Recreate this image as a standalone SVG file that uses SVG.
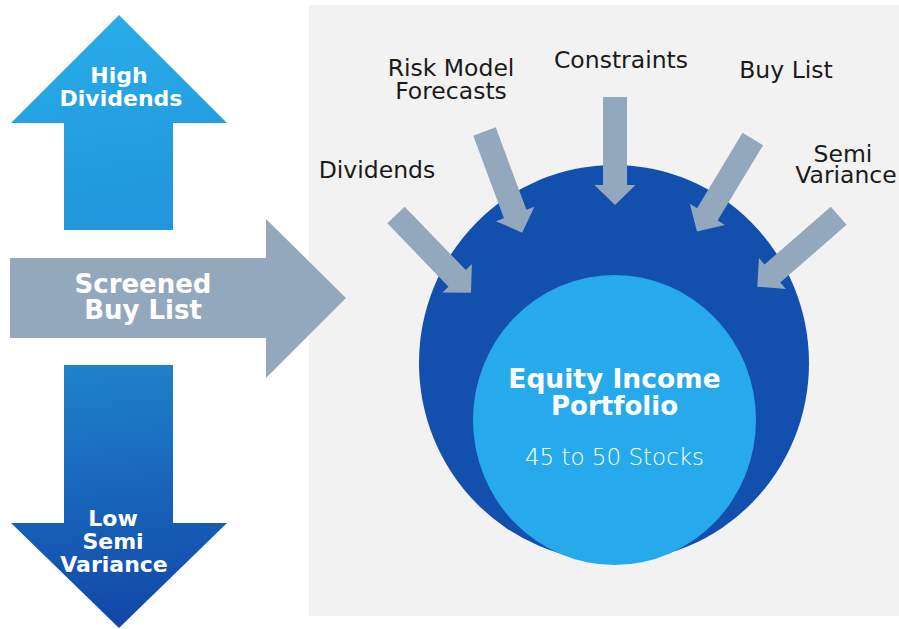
<svg xmlns="http://www.w3.org/2000/svg" width="899" height="629" viewBox="0 0 899 629">
  <defs>
    <linearGradient id="gUp" x1="0" y1="0" x2="0.15" y2="1">
      <stop offset="0" stop-color="#29ade9"/>
      <stop offset="1" stop-color="#2196dc"/>
    </linearGradient>
    <linearGradient id="gDown" x1="0" y1="0" x2="0.1" y2="1">
      <stop offset="0" stop-color="#1f84cd"/>
      <stop offset="1" stop-color="#1249a8"/>
    </linearGradient>
    <path id="inArrow" d="M0,-12 H88 V-20.5 L108,0 L88,20.5 V12 H0 Z"/>
  </defs>
  <style>
    .wb { fill: #ffffff; font-family: "DejaVu Sans", "Open Sans", sans-serif; font-weight: 700; text-anchor: middle; }
    .lbl { fill: #1a1a1a; font-family: "DejaVu Sans", "Open Sans", sans-serif; font-weight: 400; font-size: 23.5px; text-anchor: middle; }
    .gray { fill: #94a8bd; }
  </style>

  <rect id="panel" x="309" y="5" width="590" height="611" fill="#f2f2f2"/>

  <g id="high-dividends">
    <path d="M119,15 L227,123 H173 V230 H64 V123 H11 Z" fill="url(#gUp)"/>
    <text class="wb" font-size="22" x="119" y="83">High</text>
    <text class="wb" font-size="22" x="121" y="106">Dividends</text>
  </g>

  <g id="screened-buy-list">
    <path class="gray" d="M10,258 H266 V219 L346,298 L266,378 V338 H10 Z"/>
    <text class="wb" font-size="26" x="143" y="293">Screened</text>
    <text class="wb" font-size="26" x="143" y="319">Buy List</text>
  </g>

  <g id="low-semi-variance">
    <path d="M64,365 H173 V523 H227 L119,628 L11,523 H64 Z" fill="url(#gDown)"/>
    <text class="wb" font-size="22" x="113" y="526">Low</text>
    <text class="wb" font-size="22" x="113" y="549">Semi</text>
    <text class="wb" font-size="22" x="114" y="572">Variance</text>
  </g>

  <g id="outer-circle">
    <ellipse cx="614" cy="363" rx="195" ry="198" fill="#134fad"/>
  </g>

  <g id="connectors">
    <use href="#inArrow" class="gray" transform="translate(396,215) rotate(46)"/>
    <use href="#inArrow" class="gray" transform="translate(484.5,131.5) rotate(69.6)"/>
    <use href="#inArrow" class="gray" transform="translate(615,97) rotate(90)"/>
    <use href="#inArrow" class="gray" transform="translate(752.8,139) rotate(121.1)"/>
    <use href="#inArrow" class="gray" transform="translate(838.7,215.7) rotate(138.9)"/>
  </g>

  <g id="equity-income-portfolio">
    <ellipse cx="614.5" cy="420" rx="141.5" ry="145" fill="#27aaeb"/>
    <text class="wb" font-size="26.5" x="614.5" y="388">Equity Income</text>
    <text class="wb" font-size="26" x="614.5" y="415">Portfolio</text>
    <text x="614.5" y="465" fill="#ffffff" font-family="'DejaVu Sans', 'Open Sans', sans-serif" font-weight="300" font-size="23" text-anchor="middle">45 to 50 Stocks</text>
  </g>

  <g id="label-dividends"><text class="lbl" x="377" y="178">Dividends</text></g>
  <g id="label-risk-model">
    <text class="lbl" x="451" y="76">Risk Model</text>
    <text class="lbl" x="451" y="99">Forecasts</text>
  </g>
  <g id="label-constraints"><text class="lbl" x="621" y="68">Constraints</text></g>
  <g id="label-buy-list"><text class="lbl" x="786" y="78">Buy List</text></g>
  <g id="label-semi-variance">
    <text class="lbl" x="843" y="162">Semi</text>
    <text class="lbl" x="846" y="183">Variance</text>
  </g>
</svg>
